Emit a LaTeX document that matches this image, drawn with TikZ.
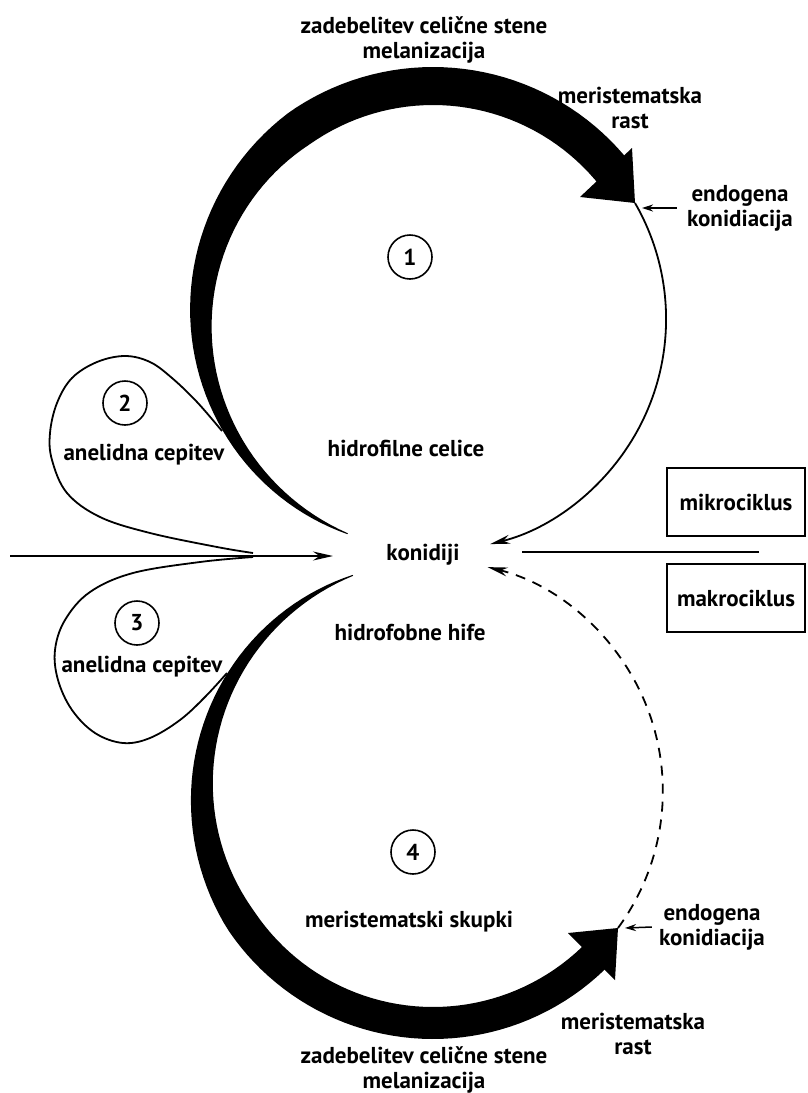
\documentclass[tikz,border=0pt]{standalone}
\usepackage{fontspec}
\setmainfont{PT Sans}
\usetikzlibrary{arrows.meta,positioning}

\begin{document}
\begin{tikzpicture}[
  x=1pt, y=-1pt,
  txt/.style={font=\bfseries\fontsize{23}{25}\selectfont, align=center, inner sep=0pt},
  num/.style={circle, draw, line width=1.6pt, minimum size=44pt, inner sep=0pt,
              font=\bfseries\fontsize{23}{23}\selectfont},
  cyclebox/.style={rectangle, draw, line width=1.6pt, minimum width=138pt,
              minimum height=68pt, font=\bfseries\fontsize{23}{25}\selectfont},
  thinline/.style={line width=1.8pt},
  arr/.style={thinline, -{Stealth[length=20pt, width=9pt]}},
  smallarr/.style={line width=1.5pt, -{Stealth[length=11pt, width=7pt]}},
  declare function={
    wtop(\a)=min(38, 0.3*(\a-111.6)+1);
    wbot(\a)=min(32, 0.3*(249.7-\a)+1);
  }
]
\useasboundingbox (0,0) rectangle (808,1093);

% Upper cycle (1): thick band, head, thin return
\fill plot[domain=111.6:322, samples=90]
    ({433+(232+wtop(\x)/2)*cos(\x)}, {318+(232+wtop(\x)/2)*sin(\x)})
  -- plot[domain=322:111.6, samples=90]
    ({433+(232-wtop(\x)/2)*cos(\x)}, {318+(232-wtop(\x)/2)*sin(\x)}) -- cycle;
\coordinate (tip1) at (635,203);
\fill (tip1) -- (632,148) -- (580,197) -- cycle;
\draw[arr] (tip1) arc[start angle=330, end angle=436, radius=232];

% Lower cycle (4)
\fill plot[domain=44:249.7, samples=90]
    ({433+(231+wbot(\x)/2)*cos(\x)}, {792+(231+wbot(\x)/2)*sin(\x)})
  -- plot[domain=249.7:44, samples=90]
    ({433+(231-wbot(\x)/2)*cos(\x)}, {792+(231-wbot(\x)/2)*sin(\x)}) -- cycle;
\coordinate (tip4) at (618,928);
\fill (tip4) -- (568,933) -- (615,980) -- cycle;
\draw[arr, dash pattern=on 10pt off 8pt] (tip4) arc[start angle=36.3, end angle=-76, radius=231];

% Loops (2) and (3)
\draw[thinline] plot[smooth, tension=0.6] coordinates {(253,553) (217,547) (150,533)
  (100,517) (67,493) (52,460) (50,433) (57,403) (72,378) (97,362) (125,356) (150,362)
  (172,378) (197,402) (222,431)};
\draw[thinline] plot[smooth, tension=0.6] coordinates {(253,557) (200,562) (133,573)
  (90,592) (65,620) (55,650) (58,680) (72,710) (95,733) (123,743) (150,738)
  (180,720) (205,697) (227,673)};

% Horizontal lines
\coordinate (lin)  at (10,556);
\coordinate (lout) at (333,556);
\coordinate (rin)  at (759,552);
\coordinate (rout) at (522,552);
\draw[arr] (lin) -- (lout);
\draw[thinline] (rin) -- (rout);

% Labels
\node[txt] (wall1) at (424,40) {zadebelitev celične stene\\melanizacija};
\node[txt] (grow1) at (630,108) {meristematska\\rast};
\node[txt] (endo1) at (740,208) {endogena\\konidiacija};
\node[num] (n1) at (410,257) {1};
\node[num] (n2) at (125,403) {2};
\node[txt] (ann2) at (144,455) {anelidna cepitev};
\node[txt] (hfil) at (406,448) {hidrofilne celice};
\node[txt] (kon)  at (423,555) {konidiji};
\node[cyclebox] (mikro) at (736,502) {mikrociklus};
\node[cyclebox] (makro) at (736,598) {makrociklus};
\node[num] (n3) at (137,623) {3};
\node[txt] (ann3) at (142,667) {anelidna cepitev};
\node[txt] (hfob) at (410,632) {hidrofobne hife};
\node[num] (n4) at (413,852) {4};
\node[txt] (skup) at (409,922) {meristematski skupki};
\node[txt] (endo4) at (712,927) {endogena\\konidiacija};
\node[txt] (grow4) at (633,1034) {meristematska\\rast};
\node[txt] (wall4) at (424,1070) {zadebelitev celične stene\\melanizacija};

% Small pointers to endogenous conidiation
\draw[smallarr] ([xshift=-10pt]endo1.west) -- ([xshift=7pt]tip1 |- endo1.west);
\draw[smallarr] ([xshift=-7pt]endo4.west) -- ([xshift=7pt]tip4);

\end{tikzpicture}
\end{document}
